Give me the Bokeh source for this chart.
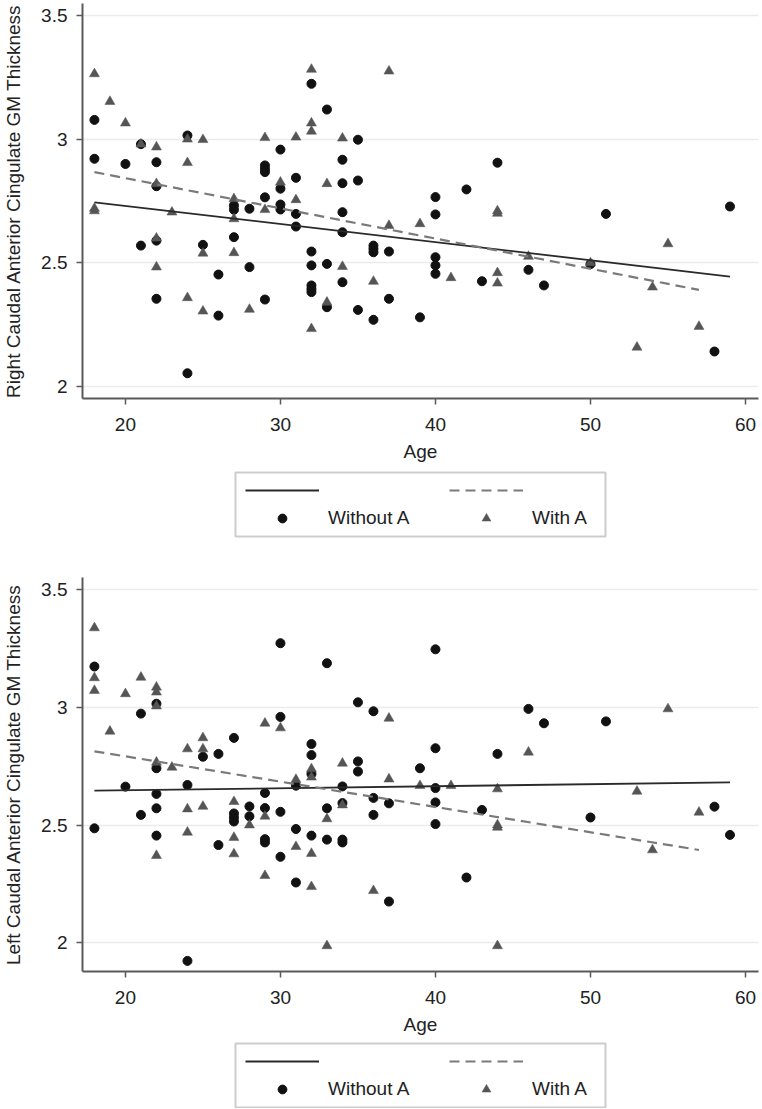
from bokeh.plotting import figure
from bokeh.models import Range1d, FixedTicker, NumeralTickFormatter, Legend, LegendItem, BoxAnnotation
from bokeh.layouts import column
from bokeh.embed import file_html
from bokeh.resources import INLINE

# ---------------- data ----------------
x_ticks = [20, 30, 40, 50, 60]
y_ticks = [2, 2.5, 3, 3.5]

right_without_age = [18, 18, 20, 21, 21, 22, 22, 22, 22, 24, 24, 25, 26, 26, 27, 27, 27, 28, 28,
                     29, 29, 29, 29, 29, 30, 30, 30, 30, 31, 31, 31, 32, 32, 32, 32, 32, 32, 33, 33, 33,
                     34, 34, 34, 34, 34, 35, 35, 35, 36, 36, 36, 36, 37, 37, 39, 40, 40, 40, 40, 40,
                     42, 43, 44, 46, 47, 50, 51, 58, 59]
right_without_val = [3.078, 2.921, 2.90, 2.98, 2.57, 2.907, 2.81, 2.59, 2.355, 3.015, 2.054, 2.573,
                     2.453, 2.287, 2.732, 2.715, 2.604, 2.719, 2.483, 2.894, 2.88, 2.867, 2.765, 2.352,
                     2.958, 2.80, 2.736, 2.716, 2.844, 2.698, 2.647, 3.224, 2.546, 2.49, 2.409, 2.395,
                     2.382, 3.12, 2.496, 2.321, 2.917, 2.822, 2.705, 2.624, 2.422, 2.998, 2.833, 2.31,
                     2.57, 2.557, 2.543, 2.27, 2.546, 2.355, 2.28, 2.766, 2.696, 2.523, 2.49, 2.456,
                     2.797, 2.426, 2.905, 2.472, 2.409, 2.495, 2.698, 2.142, 2.728]
right_with_age = [18, 18, 18, 19, 20, 21, 22, 22, 22, 22, 23, 24, 24, 24, 25, 25, 25, 27, 27, 27, 28,
                  29, 29, 30, 31, 31, 32, 32, 32, 32, 33, 33, 34, 34, 36, 37, 37, 39, 41, 44, 44, 44,
                  44, 46, 50, 53, 54, 55, 57]
right_with_val = [3.264, 2.72, 2.71, 3.152, 3.065, 2.98, 2.968, 2.82, 2.60, 2.483, 2.705, 3.0, 2.905,
                  2.359, 2.998, 2.539, 2.305, 2.759, 2.678, 2.541, 2.312, 3.006, 2.715, 2.826, 3.008,
                  2.755, 3.282, 3.065, 3.032, 2.234, 2.82, 2.341, 3.004, 2.485, 2.425, 3.275, 2.651,
                  2.658, 2.44, 2.71, 2.70, 2.46, 2.418, 2.526, 2.50, 2.159, 2.402, 2.577, 2.243]
right_fit_without_age = [18, 59]
right_fit_without_val = [2.745, 2.445]
right_fit_with_age = [18, 57]
right_fit_with_val = [2.867, 2.391]

left_without_age = [18, 18, 20, 21, 21, 22, 22, 22, 22, 22, 24, 24, 25, 26, 26, 27, 27, 27, 27, 28, 28,
                    29, 29, 29, 29, 30, 30, 30, 30, 31, 31, 31, 32, 32, 32, 32, 33, 33, 33, 34, 34, 34,
                    34, 35, 35, 35, 36, 36, 36, 37, 37, 39, 40, 40, 40, 40, 40, 42, 43, 44, 46, 47, 50,
                    51, 58, 59]
left_without_val = [3.173, 2.486, 2.663, 2.973, 2.543, 3.015, 2.741, 2.632, 2.571, 2.455, 2.67, 1.923,
                    2.79, 2.802, 2.415, 2.87, 2.549, 2.532, 2.515, 2.579, 2.537, 2.636, 2.572, 2.44,
                    2.426, 3.272, 2.959, 2.556, 2.365, 2.667, 2.483, 2.256, 2.844, 2.797, 2.717, 2.455,
                    3.187, 2.571, 2.438, 2.664, 2.593, 2.438, 2.426, 3.021, 2.77, 2.727, 2.983, 2.615,
                    2.543, 2.592, 2.175, 2.741, 3.246, 2.826, 2.657, 2.596, 2.504, 2.277, 2.564, 2.802,
                    2.993, 2.932, 2.532, 2.94, 2.578, 2.458]
left_with_age = [18, 18, 18, 19, 20, 21, 22, 22, 22, 22, 22, 23, 24, 24, 24, 25, 25, 25, 27, 27, 27, 28,
                 29, 29, 29, 30, 31, 31, 32, 32, 32, 32, 33, 33, 34, 34, 36, 37, 37, 39, 41, 44, 44, 44,
                 44, 46, 53, 54, 55, 57]
left_with_val = [3.337, 3.125, 3.071, 2.898, 3.057, 3.127, 3.085, 3.064, 3.005, 2.766, 2.37, 2.745,
                 2.823, 2.568, 2.469, 2.87, 2.823, 2.579, 2.599, 2.447, 2.377, 2.50, 2.932, 2.537,
                 2.285, 2.912, 2.693, 2.408, 2.738, 2.703, 2.379, 2.238, 2.526, 1.987, 2.762, 2.585,
                 2.221, 2.953, 2.695, 2.667, 2.667, 2.653, 2.50, 2.49, 1.987, 2.809, 2.643, 2.394,
                 2.993, 2.554]
left_fit_without_age = [18, 59]
left_fit_without_val = [2.646, 2.681]
left_fit_with_age = [18, 57]
left_fit_with_val = [2.813, 2.394]

group_labels = ["Without A", "With A"]

FONT = "Liberation Sans"
FS = "19px"
AXIS_COL = "#5a5a5a"
TEXT_COL = "#222222"
CIRC = dict(marker="circle", size=9, fill_color="#111111", line_color="#111111")
TRI = dict(marker="triangle", size=10, fill_color="#555555", line_color="#555555", line_width=0.5)
SOLID = dict(line_color="#2a2a2a", line_width=1.8)
DASH = dict(line_color="#7a7a7a", line_width=2.2, line_dash="10 6")

W = 762
BL, BR = 82, 4          # frame left / right borders (same for every figure)
FRAME_W = W - BL - BR


def make_panel(ylabel, yr, w_age, w_val, a_age, a_val, fw_age, fw_val, fa_age, fa_val,
               border_top, frame_h, border_bottom):
    p = figure(width=W, height=border_top + frame_h + border_bottom, output_backend="svg",
               toolbar_location=None,
               x_range=Range1d(17.23, 60.84), y_range=Range1d(*yr),
               min_border_left=BL, min_border_right=BR, min_border_top=border_top,
               min_border_bottom=border_bottom)
    p.outline_line_color = None
    p.background_fill_color = "white"
    p.border_fill_color = "white"

    p.scatter(w_age, w_val, **CIRC)
    p.scatter(a_age, a_val, **TRI)
    p.line(fw_age, fw_val, **SOLID)
    p.line(fa_age, fa_val, **DASH)

    p.xaxis.ticker = FixedTicker(ticks=x_ticks)
    p.yaxis.ticker = FixedTicker(ticks=y_ticks)
    p.yaxis.formatter = NumeralTickFormatter(format="0.[0]")
    for ax in (p.xaxis[0], p.yaxis[0]):
        ax.axis_line_color = AXIS_COL
        ax.axis_line_width = 2
        ax.major_tick_line_color = AXIS_COL
        ax.major_tick_line_width = 1.5
        ax.major_tick_out = 6
        ax.major_tick_in = 0
        ax.minor_tick_line_color = None
        ax.major_label_text_font = FONT
        ax.major_label_text_font_size = FS
        ax.major_label_text_color = TEXT_COL
        ax.axis_label_text_font = FONT
        ax.axis_label_text_font_size = FS
        ax.axis_label_text_font_style = "normal"
        ax.axis_label_text_color = TEXT_COL
    p.xaxis.axis_label = "Age"
    p.yaxis.axis_label = ylabel
    p.xaxis.major_label_standoff = 13
    p.xaxis.axis_label_standoff = 7
    p.yaxis.major_label_standoff = 9
    p.yaxis.axis_label_standoff = 14

    p.xgrid.grid_line_color = None
    p.ygrid.grid_line_color = "#ebebeb"
    p.ygrid.grid_line_width = 1.5
    return p


def make_legend_fig(height, w_age, w_val, a_age, a_val, fw_age, fw_val, fa_age, fa_val):
    # pixel-unit ranges lying below zero: the panel's data (all positive) stays out of view,
    # only the legend glyphs of these renderers show
    q = figure(width=W, height=height, output_backend="svg", toolbar_location=None,
               x_range=Range1d(-FRAME_W, 0), y_range=Range1d(-height, 0),
               x_axis_location=None, y_axis_location=None,
               min_border_left=BL, min_border_right=BR, min_border_top=0, min_border_bottom=0)
    q.grid.visible = False
    q.outline_line_color = None
    q.background_fill_color = "white"
    q.border_fill_color = "white"
    ls = q.line(fw_age, fw_val, **SOLID)
    ld = q.line(fa_age, fa_val, **DASH)
    c = q.scatter(w_age, w_val, **CIRC)
    t = q.scatter(a_age, a_val, **TRI)

    # legend frame: 370 x 64 px, centred under the plot frame
    q.add_layout(BoxAnnotation(left=-FRAME_W + 153, right=-FRAME_W + 523, top=-2, bottom=-66,
                               fill_color=None, line_color="#555555", line_width=2))

    common = dict(glyph_width=74, glyph_height=22, label_height=22, label_standoff=9,
                  spacing=6, padding=0, margin=0, orientation="vertical",
                  label_text_font=FONT, label_text_font_size=FS, label_text_color=TEXT_COL,
                  border_line_color=None, background_fill_alpha=0)
    vy = height - 59
    leg_a = Legend(items=[LegendItem(label=" ", renderers=[ls]),
                          LegendItem(label=group_labels[0], renderers=[c])],
                   location=(163, vy), **common)
    leg_b = Legend(items=[LegendItem(label=" ", renderers=[ld]),
                          LegendItem(label=group_labels[1], renderers=[t])],
                   location=(367, vy), **common)
    q.add_layout(leg_a, "center")
    q.add_layout(leg_b, "center")
    return q


p1 = make_panel("Right Caudal Anterior Cingulate GM Thickness", (1.952, 3.5485),
                right_without_age, right_without_val, right_with_age, right_with_val,
                right_fit_without_age, right_fit_without_val, right_fit_with_age, right_fit_with_val,
                border_top=3, frame_h=395, border_bottom=72)
l1 = make_legend_fig(70, right_without_age, right_without_val, right_with_age, right_with_val,
                     right_fit_without_age, right_fit_without_val, right_fit_with_age,
                     right_fit_with_val)
p2 = make_panel("Left Caudal Anterior Cingulate GM Thickness", (1.878, 3.551),
                left_without_age, left_without_val, left_with_age, left_with_val,
                left_fit_without_age, left_fit_without_val, left_fit_with_age, left_fit_with_val,
                border_top=37, frame_h=394, border_bottom=70)
l2 = make_legend_fig(67, left_without_age, left_without_val, left_with_age, left_with_val,
                     left_fit_without_age, left_fit_without_val, left_fit_with_age,
                     left_fit_with_val)

layout = column(p1, l1, p2, l2, spacing=0)
open("out.html", "w").write(file_html(layout, INLINE))
